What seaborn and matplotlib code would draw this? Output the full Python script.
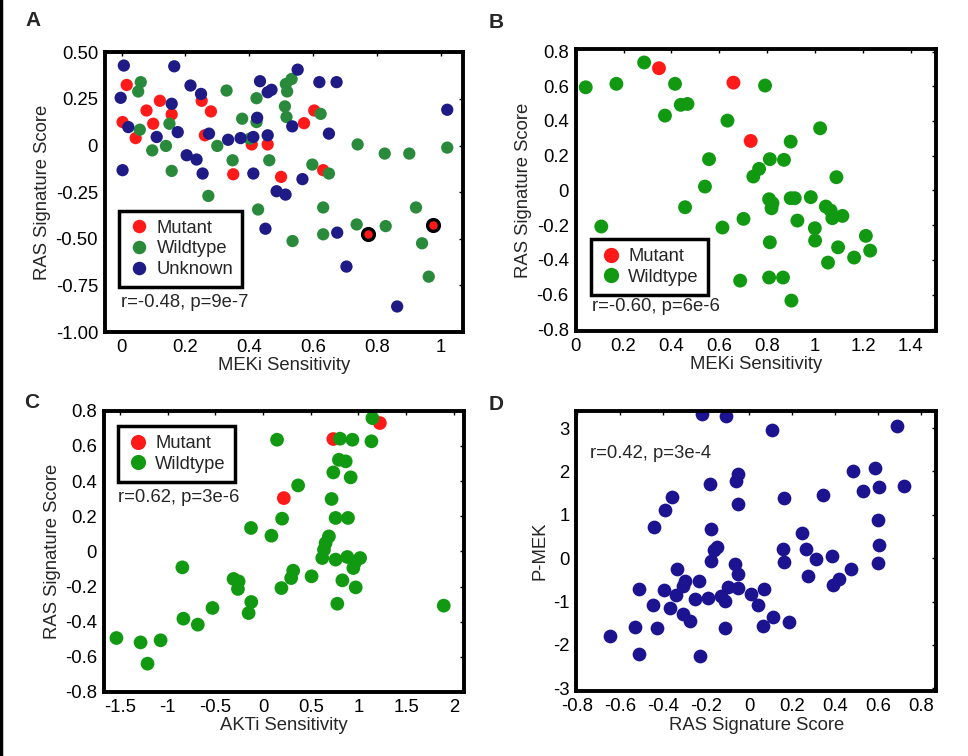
import pandas as pd
import numpy as np
import matplotlib
matplotlib.use("Agg")
import matplotlib.pyplot as plt
from matplotlib.lines import Line2D
import seaborn as sns

# ---- panel A: MEKi sensitivity vs RAS signature score
a_mut_x = [0.016, 0.003, 0.044, 0.078, 0.099, 0.12, 0.157, 0.251, 0.28, 0.261,
           0.35, 0.408, 0.458, 0.5, 0.572, 0.604, 0.632]
a_mut_y = [0.325, 0.126, 0.04, 0.188, 0.117, 0.24, 0.167, 0.24, 0.183, 0.055,
           -0.154, 0.006, 0.006, -0.168, 0.12, 0.188, -0.132]
a_ring_x = [0.773, 0.975]
a_ring_y = [-0.475, -0.426]
a_wt_x = [0.06, 0.052, 0.057, 0.096, 0.139, 0.15, 0.157, 0.272, 0.3, 0.329,
          0.348, 0.378, 0.423, 0.423, 0.402, 0.463, 0.428, 0.515, 0.533, 0.519,
          0.512, 0.517, 0.536, 0.598, 0.624, 0.65, 0.632, 0.632, 0.74, 0.737,
          0.825, 0.828, 0.902, 0.923, 0.942, 0.963, 1.021]
a_wt_y = [0.34, 0.29, 0.085, -0.026, -0.002, 0.117, -0.136, -0.27, -0.002, 0.295,
          -0.079, 0.144, 0.126, 0.254, 0.037, -0.079, -0.343, 0.33, 0.357, 0.29,
          0.21, 0.153, -0.512, -0.102, 0.17, -0.15, -0.332, -0.476, 0.006, -0.423,
          -0.043, -0.432, -0.043, -0.332, -0.524, -0.703, -0.011]
a_unk_x = [0.007, -0.003, 0.021, 0.003, 0.11, 0.157, 0.165, 0.176, 0.204, 0.216,
           0.235, 0.249, 0.254, 0.274, 0.334, 0.373, 0.413, 0.413, 0.425, 0.434,
           0.458, 0.47, 0.458, 0.451, 0.486, 0.514, 0.535, 0.552, 0.567, 0.62,
           0.65, 0.674, 0.676, 0.705, 0.864, 1.021]
a_unk_y = [0.429, 0.256, 0.099, -0.132, 0.046, 0.224, 0.425, 0.072, -0.052, 0.322,
           -0.075, 0.277, -0.15, 0.064, 0.031, 0.04, 0.046, -0.15, 0.149, 0.345,
           0.286, 0.299, 0.055, -0.446, -0.245, -0.263, 0.103, 0.407, -0.18, 0.34,
           0.064, 0.34, -0.467, -0.649, -0.863, 0.192]

# ---- panel B
b_mut_x = [0.348, 0.659, 0.731]
b_mut_y = [0.704, 0.621, 0.285]
b_wt_x = [0.042, 0.17, 0.286, 0.415, 0.439, 0.467, 0.373, 0.791, 0.634, 1.021,
          0.898, 0.557, 0.811, 0.87, 0.766, 0.742, 1.089, 0.54, 0.457, 0.107,
          0.613, 0.701, 0.808, 0.822, 0.818, 0.898, 0.915, 0.982, 0.926, 0.999,
          1.0, 1.045, 1.065, 1.072, 1.114, 1.096, 1.163, 1.212, 1.23, 1.054,
          0.811, 0.687, 0.808, 0.866, 0.901]
b_wt_y = [0.594, 0.614, 0.737, 0.614, 0.493, 0.498, 0.431, 0.604, 0.402, 0.358,
          0.281, 0.18, 0.18, 0.176, 0.124, 0.08, 0.076, 0.022, -0.097, -0.208,
          -0.214, -0.164, -0.051, -0.074, -0.103, -0.045, -0.045, -0.039, -0.174, -0.218,
          -0.289, -0.093, -0.116, -0.16, -0.147, -0.328, -0.387, -0.262, -0.347, -0.416,
          -0.299, -0.52, -0.502, -0.502, -0.635]

# ---- panel C: AKTi sensitivity
c_mut_x = [0.737, 1.225, 0.218]
c_mut_y = [0.639, 0.73, 0.303]
c_wt_x = [1.147, 0.147, 0.807, 0.937, 1.137, 0.796, 0.867, 0.737, 0.919, 0.368,
          0.719, 0.2, 0.761, 0.891, -0.126, 0.088, 0.691, 0.656, 0.639, 0.621,
          0.761, 0.884, 1.018, 0.961, 0.947, -0.846, 0.316, 0.295, 0.509, -0.309,
          -0.256, -0.263, 0.193, 0.832, 0.972, -0.123, -0.151, 0.779, 1.895, -0.53,
          -0.835, -0.684, -1.537, -1.284, -1.074, -1.211]
c_wt_y = [0.758, 0.635, 0.641, 0.635, 0.626, 0.521, 0.512, 0.449, 0.421, 0.375,
          0.298, 0.186, 0.19, 0.19, 0.133, 0.089, 0.085, 0.047, 0.009, -0.038,
          -0.047, -0.032, -0.038, -0.066, -0.095, -0.091, -0.11, -0.152, -0.142, -0.157,
          -0.171, -0.214, -0.209, -0.165, -0.205, -0.288, -0.351, -0.298, -0.309, -0.322,
          -0.383, -0.417, -0.493, -0.518, -0.506, -0.639]

# ---- panel D: RAS signature score vs P-MEK
d_x = [-0.222, -0.109, 0.104, 0.687, 0.481, 0.584, 0.527, 0.605, 0.721, 0.341,
       0.163, -0.183, -0.051, -0.062, -0.054, -0.36, -0.391, -0.442, 0.597, 0.245,
       -0.178, -0.15, -0.166, 0.155, 0.264, 0.605, 0.384, 0.31, 0.163, 0.597,
       -0.177, -0.067, -0.054, -0.338, 0.473, 0.271, 0.419, 0.388, -0.299, -0.31,
       -0.233, -0.515, -0.398, -0.341, -0.101, -0.054, 0.07, 0.009, -0.251, -0.194,
       -0.132, -0.112, 0.039, -0.447, -0.369, -0.31, -0.276, 0.109, 0.062, 0.183,
       -0.113, -0.532, -0.431, -0.647, -0.515, -0.229]
d_y = [3.32, 3.28, 2.96, 3.04, 2.02, 2.08, 1.54, 1.63, 1.66, 1.45,
       1.39, 1.72, 1.94, 1.77, 1.25, 1.41, 1.1, 0.72, 0.89, 0.58,
       0.68, 0.25, 0.18, 0.22, 0.22, 0.3, 0.05, -0.03, -0.09, -0.11,
       -0.07, -0.13, -0.36, -0.26, -0.26, -0.42, -0.49, -0.61, -0.53, -0.65,
       -0.53, -0.72, -0.74, -0.84, -0.67, -0.68, -0.72, -0.82, -0.95, -0.91,
       -0.88, -0.99, -1.07, -1.07, -1.16, -1.28, -1.45, -1.36, -1.57, -1.47,
       -1.6, -1.59, -1.6, -1.8, -2.2, -2.26]

RED = "#ff1a1a"
GREEN_A = "#2a8a3c"
BLUE_A = "#1e1a86"
GREEN = "#119a11"
BLUE_D = "#1b138f"

FS = 13.3

sns.set_style("white")
plt.rcParams["font.family"] = ["Liberation Sans", "DejaVu Sans"]
plt.rcParams["axes.unicode_minus"] = False

fig = plt.figure(figsize=(9.68, 7.56), dpi=100)
axA = fig.add_axes([0.1085, 0.5608, 0.370, 0.370])
axB = fig.add_axes([0.5947, 0.5622, 0.372, 0.3726])
axC = fig.add_axes([0.1074, 0.0847, 0.372, 0.372])
axD = fig.add_axes([0.5954, 0.0856, 0.372, 0.3712])


def frame(ax, xt, xl, yt, yl, xlim, ylim):
    ax.set_xlim(*xlim)
    ax.set_ylim(*ylim)
    ax.set_xticks(xt)
    ax.set_xticklabels(xl)
    ax.set_yticks(yt)
    ax.set_yticklabels(yl)
    for s in ax.spines.values():
        s.set_visible(True)
        s.set_color("black")
        s.set_linewidth(2.8)
    ax.tick_params(direction="in", length=3, width=1, top=True, right=True,
                   labelsize=FS, pad=5, colors="black")
    ax.grid(False)


def legend(ax, loc, anchor):
    h, l = ax.get_legend_handles_labels()
    leg = ax.legend(h, l, loc=loc, bbox_to_anchor=anchor, frameon=True,
                    fancybox=False, framealpha=1, edgecolor="black",
                    fontsize=13.2, handletextpad=0.35, borderpad=0.5,
                    labelspacing=0.2, handlelength=1.2, borderaxespad=0,
                    markerscale=1.1)
    leg.get_frame().set_linewidth(2.5)


# A
dfA = pd.DataFrame({
    "x": a_mut_x + a_wt_x + a_unk_x,
    "y": a_mut_y + a_wt_y + a_unk_y,
    "g": ["Mutant"] * len(a_mut_x) + ["Wildtype"] * len(a_wt_x) + ["Unknown"] * len(a_unk_x),
})
sns.scatterplot(data=dfA, x="x", y="y", hue="g",
                hue_order=["Mutant", "Wildtype", "Unknown"],
                palette=[RED, GREEN_A, BLUE_A], s=78, linewidth=0, ax=axA)
sns.scatterplot(x=a_ring_x, y=a_ring_y, color=RED, s=72, edgecolor="black",
                linewidth=2.4, ax=axA, legend=False)
frame(axA, [0, 0.2, 0.4, 0.6, 0.8, 1], ["0", "0.2", "0.4", "0.6", "0.8", "1"],
      [-1, -0.75, -0.5, -0.25, 0, 0.25, 0.5],
      ["-1.00", "-0.75", "-0.50", "-0.25", "0", "0.25", "0.50"],
      (-0.052, 1.071), (-1.0, 0.5))
legend(axA, "lower left", (0.039, 0.16))
axA.text(0.044, 0.104, "r=-0.48, p=9e-7", transform=axA.transAxes,
         fontsize=FS, va="center", ha="left")
axA.set_xlabel("MEKi Sensitivity", fontsize=FS, labelpad=1)
axA.set_ylabel("RAS Signature Score", fontsize=FS, labelpad=3)

# B
dfB = pd.DataFrame({
    "x": b_mut_x + b_wt_x,
    "y": b_mut_y + b_wt_y,
    "g": ["Mutant"] * len(b_mut_x) + ["Wildtype"] * len(b_wt_x),
})
sns.scatterplot(data=dfB, x="x", y="y", hue="g", hue_order=["Mutant", "Wildtype"],
                palette=[RED, GREEN], s=100, linewidth=0, ax=axB)
frame(axB, [0, 0.2, 0.4, 0.6, 0.8, 1, 1.2, 1.4],
      ["0", "0.2", "0.4", "0.6", "0.8", "1", "1.2", "1.4"],
      [-0.8, -0.6, -0.4, -0.2, 0, 0.2, 0.4, 0.6, 0.8],
      ["-0.8", "-0.6", "-0.4", "-0.2", "0", "0.2", "0.4", "0.6", "0.8"],
      (0, 1.504), (-0.81, 0.813))
legend(axB, "lower left", (0.042, 0.128))
axB.text(0.046, 0.086, "r=-0.60, p=6e-6", transform=axB.transAxes,
         fontsize=FS, va="center", ha="left")
axB.set_xlabel("MEKi Sensitivity", fontsize=FS, labelpad=1)
axB.set_ylabel("RAS Signature Score", fontsize=FS, labelpad=3)

# C
dfC = pd.DataFrame({
    "x": c_mut_x + c_wt_x,
    "y": c_mut_y + c_wt_y,
    "g": ["Mutant"] * len(c_mut_x) + ["Wildtype"] * len(c_wt_x),
})
sns.scatterplot(data=dfC, x="x", y="y", hue="g", hue_order=["Mutant", "Wildtype"],
                palette=[RED, GREEN], s=98, linewidth=0, ax=axC)
frame(axC, [-1.5, -1, -0.5, 0, 0.5, 1, 1.5, 2],
      ["-1.5", "-1", "-0.5", "0", "0.5", "1", "1.5", "2"],
      [-0.8, -0.6, -0.4, -0.2, 0, 0.2, 0.4, 0.6, 0.8],
      ["-0.8", "-0.6", "-0.4", "-0.2", "0", "0.2", "0.4", "0.6", "0.8"],
      (-1.668, 2.108), (-0.8, 0.8))
legend(axC, "upper left", (0.038, 0.946))
axC.text(0.04, 0.692, "r=0.62, p=3e-6", transform=axC.transAxes,
         fontsize=FS, va="center", ha="left")
axC.set_xlabel("AKTi Sensitivity", fontsize=FS, labelpad=1)
axC.set_ylabel("RAS Signature Score", fontsize=FS, labelpad=3)

# D
sns.scatterplot(x=d_x, y=d_y, color=BLUE_D, s=98, linewidth=0, ax=axD, legend=False)
frame(axD, [-0.8, -0.6, -0.4, -0.2, 0, 0.2, 0.4, 0.6, 0.8],
      ["-0.8", "-0.6", "-0.4", "-0.2", "0", "0.2", "0.4", "0.6", "0.8"],
      [-3, -2, -1, 0, 1, 2, 3], ["-3", "-2", "-1", "0", "1", "2", "3"],
      (-0.805, 0.87), (-3.07, 3.4))
axD.text(0.038, 0.849, "r=0.42, p=3e-4", transform=axD.transAxes,
         fontsize=FS, va="center", ha="left")
axD.set_xlabel("RAS Signature Score", fontsize=FS, labelpad=1)
axD.set_ylabel("P-MEK", fontsize=FS, labelpad=3)

# panel letters
for lab, px, py in [("A", 33, 20), ("B", 496, 22), ("C", 32, 402), ("D", 496, 405)]:
    fig.text(px / 968, 1 - py / 756, lab, fontsize=15, fontweight="bold",
             ha="center", va="center")

fig.add_artist(Line2D([0.0015, 0.0015], [0, 1], color="black", linewidth=2.5,
                      transform=fig.transFigure))

fig.savefig("out.png", dpi=100)
